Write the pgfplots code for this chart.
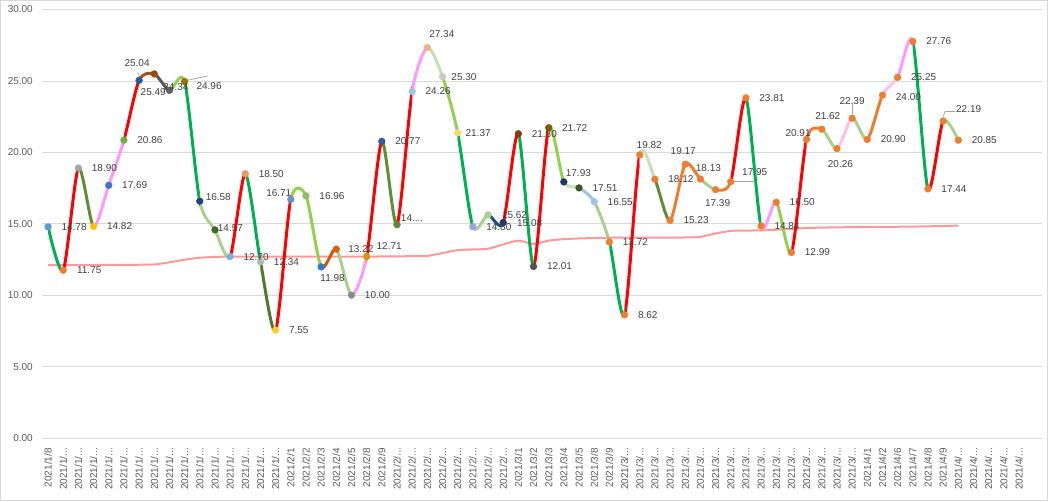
\documentclass[border=0pt]{standalone}
\usepackage{fontspec}
\setmainfont{Liberation Sans}
\usepackage{pgfplots}
\usepackage{pgfplotstable}
\pgfplotsset{compat=1.18}

% line colours
\definecolor{cG}{HTML}{00B050}
\definecolor{cR}{HTML}{FF0000}
\definecolor{cOL}{HTML}{5E8F32}
\definecolor{cDOL}{HTML}{4E7A2B}
\definecolor{cPK}{HTML}{FF99FF}
\definecolor{cLPK}{HTML}{FFC0E6}
\definecolor{cBR}{HTML}{A0522D}
\definecolor{cDG}{HTML}{595959}
\definecolor{cLG}{HTML}{92D050}
\definecolor{cSG}{HTML}{A9D18E}
\definecolor{cLSG}{HTML}{C5E0B4}
\definecolor{cOR2}{HTML}{C55A11}
\definecolor{cNV}{HTML}{1F4E79}
\definecolor{cLB}{HTML}{9DC3E6}
\definecolor{cOR}{HTML}{ED7D31}
\definecolor{cAvg}{HTML}{FF8080}
\definecolor{cGrid}{HTML}{D9D9D9}
\definecolor{cTick}{HTML}{595959}
\definecolor{cLab}{HTML}{404040}
\definecolor{cLead}{HTML}{A6A6A6}

% marker colours
\definecolor{m0}{HTML}{5B9BD5}\definecolor{m1}{HTML}{ED7D31}\definecolor{m2}{HTML}{A5A5A5}
\definecolor{m3}{HTML}{FFC000}\definecolor{m4}{HTML}{4472C4}\definecolor{m5}{HTML}{70AD47}
\definecolor{m6}{HTML}{255E91}\definecolor{m7}{HTML}{9E480E}\definecolor{m8}{HTML}{636363}
\definecolor{m9}{HTML}{997300}\definecolor{m10}{HTML}{264478}\definecolor{m11}{HTML}{43682B}
\definecolor{m12}{HTML}{7CAFDD}\definecolor{m13}{HTML}{F1975A}\definecolor{m14}{HTML}{B7B7B7}
\definecolor{m15}{HTML}{FFCD33}\definecolor{m16}{HTML}{698ED0}\definecolor{m17}{HTML}{8CC168}
\definecolor{m18}{HTML}{327DC2}\definecolor{m19}{HTML}{D26012}\definecolor{m20}{HTML}{8B8B8B}
\definecolor{m21}{HTML}{CC9A06}\definecolor{m22}{HTML}{335AA1}\definecolor{m23}{HTML}{5A8A39}
\definecolor{m24}{HTML}{9DC3E6}\definecolor{m25}{HTML}{F4B183}\definecolor{m26}{HTML}{C9C9C9}
\definecolor{m27}{HTML}{FFD966}\definecolor{m28}{HTML}{8FAADC}\definecolor{m29}{HTML}{A9D18E}
\definecolor{m30}{HTML}{203864}\definecolor{m31}{HTML}{843C0C}\definecolor{m32}{HTML}{525252}
\definecolor{m33}{HTML}{7F6000}\definecolor{m34}{HTML}{1F3864}\definecolor{m35}{HTML}{385723}
\definecolor{m36}{HTML}{9DC3E6}\definecolor{m37}{HTML}{ED7D31}

\foreach \k/\c in {0/cG,1/cR,2/cOL,3/cPK,4/cPK,5/cR,6/cBR,7/cDG,8/cLG,9/cG,
  10/cSG,11/cSG,12/cR,13/cG,14/cDOL,15/cR,16/cLG,17/cLG,18/cOR2,19/cSG,
  20/cPK,21/cR,22/cOL,23/cR,24/cPK,25/cLSG,26/cLG,27/cG,28/cSG,29/cNV,
  30/cR,31/cG,32/cR,33/cLG,34/cLSG,35/cLB,36/cSG,37/cG,38/cR,39/cLSG,
  40/cOL,41/cOR,42/cOR,43/cSG,44/cOR,45/cR,46/cG,47/cPK,48/cLG,49/cR,
  50/cOR,51/cSG,52/cLPK,53/cSG,54/cOR,55/cLPK,56/cPK,57/cG,58/cR,59/cSG}
  {\xglobal\colorlet{s\k}{\c}}

\newcommand\ja{{2021/1/...}}
\newcommand\fe{{2021/2/...}}
\newcommand\ma{{2021/3/...}}
\newcommand\ap{{2021/4/...}}

% main series: value, label text, marker colour class, label offset
\pgfplotstableread{
i v lab mi dx dy
0 14.78 14.78 m0 26 0
1 11.75 11.75 m1 26 0
2 18.90 18.90 m2 26 0
3 14.82 14.82 m3 26 0
4 17.69 17.69 m4 26 0
5 20.86 20.86 m5 26 0
6 25.04 25.04 m6 -2 17
7 25.49 25.49 m7 -1 -18
8 24.34 24.34 m8 6.5 3
9 24.96 24.96 m9 24.5 -5
10 16.58 16.58 m10 18.5 4
11 14.57 14.57 m11 15.5 2
12 12.70 12.70 m12 26 0
13 18.50 18.50 m13 26 0
14 12.34 12.34 m14 26 0
15 7.55 7.55 m15 23.2 0
16 16.71 16.71 m16 -12 6
17 16.96 16.96 m17 26 0
18 11.98 11.98 m18 11.5 -11
19 13.22 13.22 m19 24.5 0
20 10.00 10.00 m20 26 0
21 12.71 12.71 m21 22.5 10
22 20.77 20.77 m22 26 0
23 14.93 14.... m23 15.1 7
24 24.26 24.26 m24 26 0
25 27.34 27.34 m25 14.5 13
26 25.30 25.30 m26 21.5 0
27 21.37 21.37 m27 20.5 0
28 14.80 14.80 m28 26 0
29 15.62 15.62 m29 26.5 0
30 15.08 15.08 m30 26.5 0
31 21.30 21.30 m31 26 0
32 12.01 12.01 m32 26 0
33 21.72 21.72 m33 26 0
34 17.93 17.93 m34 14.5 9
35 17.51 17.51 m35 26 0
36 16.55 16.55 m36 26 0
37 13.72 13.72 m37 26 0
38 8.62 8.62 m37 23.2 0
39 19.82 19.82 m37 9.5 10
40 18.12 18.12 m37 26 0
41 15.23 15.23 m37 26 0
42 19.17 19.17 m37 -2 13
43 18.13 18.13 m37 8 11
44 17.39 17.39 m37 2 -13
45 17.95 17.95 m37 24 10
46 23.81 23.81 m37 26 0
47 14.84 14.84 m37 26 0
48 16.50 16.50 m37 26 0
49 12.99 12.99 m37 26 0
50 20.91 20.91 m37 -8.5 6
51 21.62 21.62 m37 6 13
52 20.26 20.26 m37 3.5 -15
53 22.39 22.39 m37 0 17
54 20.90 20.90 m37 26 0
55 24.00 24.00 m37 26 -2
56 25.25 25.25 m37 26 0
57 27.76 27.76 m37 26 0
58 17.44 17.44 m37 26 0
59 22.19 22.19 m37 25.5 12
60 20.85 20.85 m37 26 0
}\main

% light red average line
\pgfplotstableread{
i r
0 12.10
1 12.10
2 12.10
3 12.11
4 12.12
5 12.12
6 12.13
7 12.15
8 12.30
9 12.48
10 12.62
11 12.68
12 12.70
13 12.70
14 12.70
15 12.70
16 12.70
17 12.70
18 12.70
19 12.70
20 12.70
21 12.70
22 12.71
23 12.72
24 12.73
25 12.75
26 12.95
27 13.15
28 13.20
29 13.25
30 13.55
31 13.82
32 13.58
33 13.82
34 13.92
35 13.97
36 14.00
37 14.02
38 14.03
39 14.03
40 14.03
41 14.03
42 14.04
43 14.08
44 14.32
45 14.50
46 14.52
47 14.54
48 14.58
49 14.64
50 14.70
51 14.73
52 14.75
53 14.76
54 14.77
55 14.78
56 14.79
57 14.80
58 14.82
59 14.84
60 14.87
}\avgline

\begin{document}
\begin{tikzpicture}
\begin{axis}[
    scale only axis, width=1000pt, height=428.5pt,
    clip=false,
    xmin=-0.4, xmax=65.52, ymin=0, ymax=30,
    ytick={0,5,10,15,20,25,30},
    xtick={0,...,64},
    xticklabels={{2021/1/8},
      \ja,\ja,\ja,\ja,\ja,\ja,\ja,\ja,\ja,\ja,\ja,\ja,\ja,\ja,\ja,
      {2021/2/1},{2021/2/2},{2021/2/3},{2021/2/4},{2021/2/5},{2021/2/8},{2021/2/9},
      \fe,\fe,\fe,\fe,\fe,\fe,\fe,\fe,
      {2021/3/1},{2021/3/2},{2021/3/3},{2021/3/4},{2021/3/5},{2021/3/8},{2021/3/9},
      \ma,\ma,\ma,\ma,\ma,\ma,\ma,\ma,\ma,\ma,\ma,\ma,\ma,\ma,\ma,\ma,
      {2021/4/1},{2021/4/2},{2021/4/6},{2021/4/7},{2021/4/8},{2021/4/9},
      \ap,\ap,\ap,\ap,\ap},
    ymajorgrids,
    grid style={cGrid, line width=0.75pt},
    axis line style={draw=none},
    tick style={draw=none},
    /pgf/number format/assume math mode=true,
    yticklabel style={font=\fontsize{10}{12}\selectfont, text=cTick, inner sep=0pt, xshift=-9pt,
      /pgf/number format/.cd, fixed, fixed zerofill, precision=2},
    xticklabel style={font=\fontsize{10}{12}\selectfont, text=cTick, inner sep=0pt,
      yshift=-10pt, rotate=90, anchor=east},
]

% chart border, placed from the plot area's lower left corner
\draw[cGrid, line width=1pt]
  ([shift={(-41.5pt,-62.5pt)}]rel axis cs:0,0) rectangle ([shift={(1005.5pt,437.5pt)}]rel axis cs:0,0);

\addplot[smooth, tension=0.45, cAvg, opacity=0.8, line width=2pt, no markers, forget plot]
  table[x=i, y=r] {\avgline};

% one smooth piece per segment, clipped to its own x interval
\pgfplotsforeachungrouped \k in {0,...,59}{
  \pgfmathtruncatemacro\ka{\k-1}
  \pgfmathtruncatemacro\kb{\k+1}
  \pgfmathtruncatemacro\kc{\k+2}
  \edef\temp{%
    \noexpand\begin{scope}
    \noexpand\clip (axis cs:\k,0) rectangle (axis cs:\kb,30);
    \noexpand\addplot[smooth, tension=0.45, color=s\k, line width=3pt, no markers, forget plot,
      restrict x to domain=\ka:\kc]
      table[x=i, y=v] {\noexpand\main};
    \noexpand\end{scope}}
  \temp
}

% leader lines
\draw[cLead, line width=0.75pt] (axis cs:9.2,25.05) -- (axis cs:10.55,25.35);
\draw[cLead, line width=0.75pt] (axis cs:45.2,17.95) -- (axis cs:46.6,17.95);
\draw[cLead, line width=0.75pt] (axis cs:59,22.5) -- (axis cs:59.13,22.86) -- (axis cs:59.8,22.86);
\draw[cLead, line width=0.75pt] (axis cs:53,23.45) -- (axis cs:53,22.7);
\draw[cLead, line width=0.75pt] (axis cs:5.93,25.55) -- (axis cs:6.03,25.25);

% markers, one colour class each
\addplot[scatter, only marks, mark=*, mark size=3.4pt, forget plot,
    point meta=explicit symbolic,
    scatter/classes={
      m0={draw=m0,fill=m0}, m1={draw=m1,fill=m1}, m2={draw=m2,fill=m2}, m3={draw=m3,fill=m3},
      m4={draw=m4,fill=m4}, m5={draw=m5,fill=m5}, m6={draw=m6,fill=m6}, m7={draw=m7,fill=m7},
      m8={draw=m8,fill=m8}, m9={draw=m9,fill=m9}, m10={draw=m10,fill=m10}, m11={draw=m11,fill=m11},
      m12={draw=m12,fill=m12}, m13={draw=m13,fill=m13}, m14={draw=m14,fill=m14}, m15={draw=m15,fill=m15},
      m16={draw=m16,fill=m16}, m17={draw=m17,fill=m17}, m18={draw=m18,fill=m18}, m19={draw=m19,fill=m19},
      m20={draw=m20,fill=m20}, m21={draw=m21,fill=m21}, m22={draw=m22,fill=m22}, m23={draw=m23,fill=m23},
      m24={draw=m24,fill=m24}, m25={draw=m25,fill=m25}, m26={draw=m26,fill=m26}, m27={draw=m27,fill=m27},
      m28={draw=m28,fill=m28}, m29={draw=m29,fill=m29}, m30={draw=m30,fill=m30}, m31={draw=m31,fill=m31},
      m32={draw=m32,fill=m32}, m33={draw=m33,fill=m33}, m34={draw=m34,fill=m34}, m35={draw=m35,fill=m35},
      m36={draw=m36,fill=m36}, m37={draw=m37,fill=m37}}]
  table[x=i, y=v, meta=mi] {\main};

% data labels
\addplot[draw=none, mark=none, forget plot,
    point meta=explicit symbolic,
    visualization depends on={\thisrow{dx} \as \ldx},
    visualization depends on={\thisrow{dy} \as \ldy},
    nodes near coords,
    every node near coord/.append style={font=\fontsize{10}{12}\selectfont, text=cLab,
      inner sep=0pt, anchor=center, xshift=\ldx pt, yshift=\ldy pt},
  ] table[x=i, y=v, meta=lab] {\main};

\end{axis}
\end{tikzpicture}
\end{document}
